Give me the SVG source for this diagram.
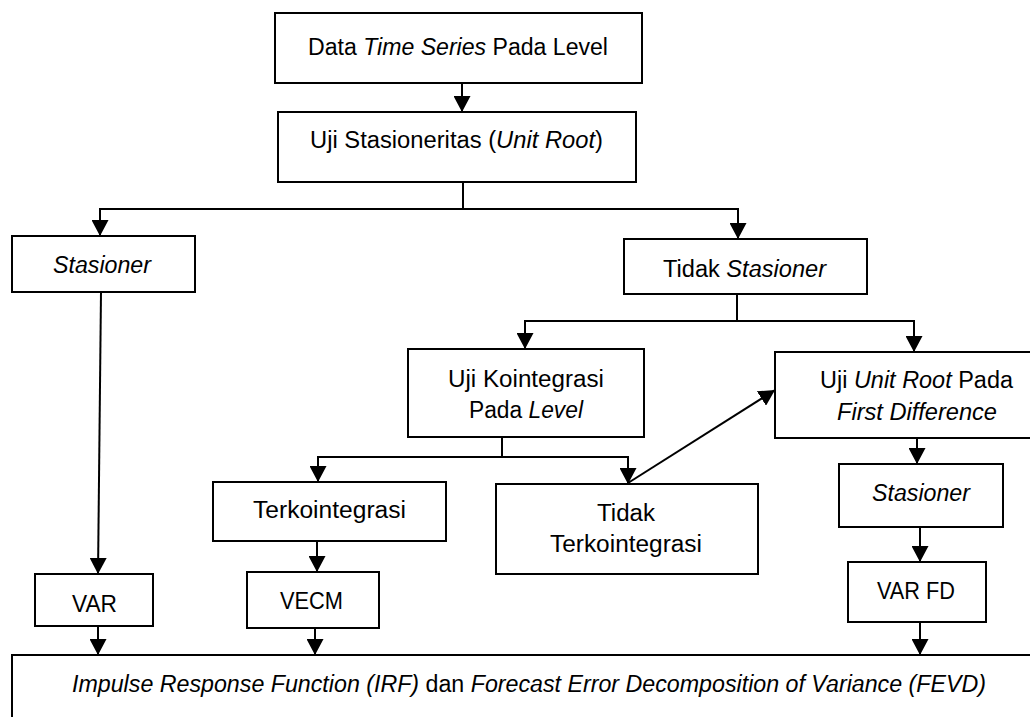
<svg xmlns="http://www.w3.org/2000/svg" width="1030" height="717" viewBox="0 0 1030 717">
<style>
.box{fill:#fff;stroke:#000;stroke-width:2}
.c{fill:none;stroke:#000;stroke-width:2}
text{font-family:"Liberation Sans",Arial,sans-serif;font-size:23px;fill:#000}
.i{font-style:italic}
</style>
<defs>
<marker id="ah" viewBox="0 0 16 17" markerWidth="16" markerHeight="17" refX="16" refY="8.5" orient="auto" markerUnits="userSpaceOnUse">
<path d="M0,0 L16,8.5 L0,17 z" fill="#000"/>
</marker>
</defs>
<rect width="1030" height="717" fill="#fff"/>
<g id="connectors">
<line class="c" x1="462" y1="83" x2="462" y2="112" marker-end="url(#ah)"/>
<polyline class="c" points="463,182 463,209"/>
<polyline class="c" points="738,209 100,209 100,236" marker-end="url(#ah)"/>
<polyline class="c" points="463,209 738,209 738,239" marker-end="url(#ah)"/>
<line class="c" x1="101" y1="292" x2="98" y2="574" marker-end="url(#ah)"/>
<polyline class="c" points="737,294 737,321"/>
<polyline class="c" points="737,321 525,321 525,349" marker-end="url(#ah)"/>
<polyline class="c" points="737,321 914,321 914,352" marker-end="url(#ah)"/>
<polyline class="c" points="502,437 502,457"/>
<polyline class="c" points="502,457 318,457 318,482" marker-end="url(#ah)"/>
<polyline class="c" points="502,457 628,457 628,484" marker-end="url(#ah)"/>
<line class="c" x1="628" y1="483" x2="775" y2="390" marker-end="url(#ah)"/>
<line class="c" x1="317" y1="541" x2="317" y2="572" marker-end="url(#ah)"/>
<line class="c" x1="917" y1="438" x2="917" y2="464" marker-end="url(#ah)"/>
<line class="c" x1="920" y1="527" x2="920" y2="562" marker-end="url(#ah)"/>
<line class="c" x1="98" y1="626" x2="98" y2="655" marker-end="url(#ah)"/>
<line class="c" x1="315" y1="628" x2="315" y2="655" marker-end="url(#ah)"/>
<line class="c" x1="920" y1="622" x2="920" y2="655" marker-end="url(#ah)"/>
</g>
<g id="n-data">
<rect class="box" x="275" y="13" width="367" height="70"/>
<text x="308" y="55" textLength="300" lengthAdjust="spacingAndGlyphs">Data <tspan class="i">Time Series</tspan> Pada Level</text>
</g>
<g id="n-uji">
<rect class="box" x="278" y="112" width="358" height="70"/>
<text x="310" y="148" textLength="293" lengthAdjust="spacingAndGlyphs">Uji Stasioneritas (<tspan class="i">Unit Root</tspan>)</text>
</g>
<g id="n-stasioner">
<rect class="box" x="12" y="236" width="183" height="56"/>
<text class="i" x="53" y="273" textLength="98" lengthAdjust="spacingAndGlyphs">Stasioner</text>
</g>
<g id="n-tidak-stasioner">
<rect class="box" x="624" y="239" width="243" height="55"/>
<text x="663" y="277" textLength="163" lengthAdjust="spacingAndGlyphs">Tidak <tspan class="i">Stasioner</tspan></text>
</g>
<g id="n-kointegrasi">
<rect class="box" x="408" y="349" width="236" height="88"/>
<text x="448" y="387" textLength="156" lengthAdjust="spacingAndGlyphs">Uji Kointegrasi</text>
<text x="469" y="418" textLength="114" lengthAdjust="spacingAndGlyphs">Pada <tspan class="i">Level</tspan></text>
</g>
<g id="n-unitroot-fd">
<rect class="box" x="775" y="352" width="265" height="86"/>
<text x="820" y="388" textLength="193" lengthAdjust="spacingAndGlyphs">Uji <tspan class="i">Unit Root</tspan> Pada</text>
<text class="i" x="837" y="420" textLength="160" lengthAdjust="spacingAndGlyphs">First Difference</text>
</g>
<g id="n-terkointegrasi">
<rect class="box" x="213" y="482" width="233" height="59"/>
<text x="253" y="518" textLength="153" lengthAdjust="spacingAndGlyphs">Terkointegrasi</text>
</g>
<g id="n-tidak-terkointegrasi">
<rect class="box" x="496" y="484" width="262" height="90"/>
<text x="597" y="521" textLength="58" lengthAdjust="spacingAndGlyphs">Tidak</text>
<text x="550" y="552" textLength="152" lengthAdjust="spacingAndGlyphs">Terkointegrasi</text>
</g>
<g id="n-stasioner-fd">
<rect class="box" x="839" y="464" width="164" height="63"/>
<text class="i" x="872" y="501" textLength="98" lengthAdjust="spacingAndGlyphs">Stasioner</text>
</g>
<g id="n-var">
<rect class="box" x="35" y="574" width="118" height="52"/>
<text x="72" y="612" textLength="45" lengthAdjust="spacingAndGlyphs">VAR</text>
</g>
<g id="n-vecm">
<rect class="box" x="247" y="572" width="132" height="56"/>
<text x="280" y="609" textLength="63" lengthAdjust="spacingAndGlyphs">VECM</text>
</g>
<g id="n-varfd">
<rect class="box" x="848" y="562" width="138" height="60"/>
<text x="877" y="599" textLength="78" lengthAdjust="spacingAndGlyphs">VAR FD</text>
</g>
<g id="n-irf-fevd">
<rect class="box" x="12" y="655" width="1030" height="80"/>
<text x="72" y="692" textLength="914" lengthAdjust="spacingAndGlyphs"><tspan class="i">Impulse Response Function (IRF)</tspan> dan <tspan class="i">Forecast Error Decomposition of Variance (FEVD)</tspan></text>
</g>
</svg>
